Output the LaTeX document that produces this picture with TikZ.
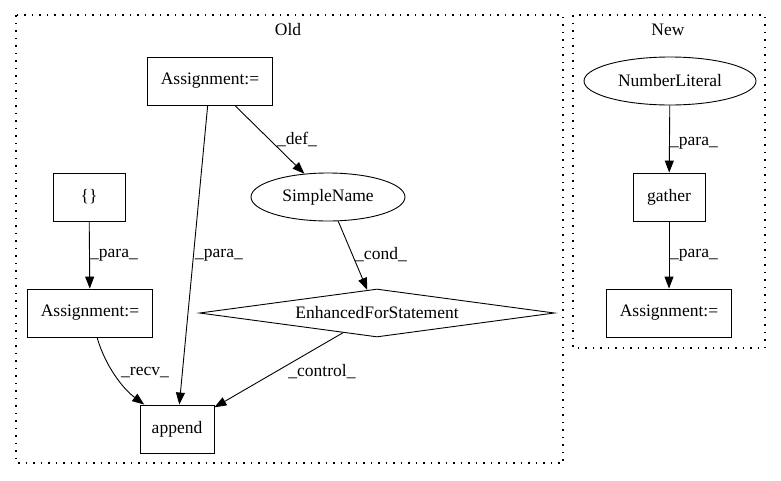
\documentclass[tikz,border=0pt]{standalone}
\usepackage{fontspec}
\setmainfont{Liberation Serif}
\usetikzlibrary{shapes.geometric,arrows.meta}
\begin{document}
\begin{tikzpicture}[x=1pt,y=-1pt,
  every node/.style={font=\fontsize{17.5}{20}\selectfont},
  box/.style={draw,line width=0.9pt,rectangle,inner sep=0pt,minimum width=#1,minimum height=48pt},
  oval/.style={draw,line width=0.9pt,ellipse,inner sep=0pt,minimum width=#1,minimum height=48pt},
  cond/.style={draw,line width=0.9pt,diamond,aspect=7.4,inner sep=0pt,minimum width=355pt,minimum height=48pt},
  edge/.style={line width=0.9pt,-{Triangle[length=12pt,width=9pt]}},
  lbl/.style={inner sep=0pt},
  cluster/.style={line width=1.3pt,dash pattern=on 1.5pt off 6pt}]
\useasboundingbox (0,0) rectangle (781,480);
\fill[white] (0,0) rectangle (781,480);
% clusters
\draw[cluster] (16,15) rectangle (563,463);
\draw[cluster] (573,15) rectangle (765,348);
\node (old) at (288,30) {Old};
\node (new) at (668,30) {New};
% Old nodes
\node[box=125pt] (a1) at (210,81) {Assignment:=};
\node[box=72pt] (br) at (89,197) {\{\}};
\node[oval=154pt] (sn) at (328,197) {SimpleName};
\node[box=125pt] (a2) at (90,313) {Assignment:=};
\node[cond] (ef) at (377,313) {EnhancedForStatement};
\node[box=74pt] (ap) at (177,429) {append};
% New nodes
\node[oval=172pt] (nl) at (670,81) {NumberLiteral};
\node[box=72pt] (ga) at (669,197) {gather};
\node[box=125pt] (a3) at (669,313) {Assignment:=};
% edges
\draw[edge] (a1) -- (sn);
\draw[edge] (a1) -- (ap);
\draw[edge] (br) -- (a2);
\draw[edge] (sn) -- (ef);
\draw[edge] (a2) .. controls (105,365) and (122,388) .. (ap);
\draw[edge] (ef) -- (ap);
\draw[edge] (nl) -- (ga);
\draw[edge] (ga) -- (a3);
% labels
\node[lbl] (l1) at (297,139) {\_def\_};
\node[lbl] (l2) at (114,255) {\_para\_};
\node[lbl] (l3) at (219,255) {\_para\_};
\node[lbl] (l4) at (381,255) {\_cond\_};
\node[lbl] (l5) at (145,372) {\_recv\_};
\node[lbl] (l6) at (322,372) {\_control\_};
\node[lbl] (l7) at (694,143) {\_para\_};
\node[lbl] (l8) at (694,255) {\_para\_};
\end{tikzpicture}
\end{document}
